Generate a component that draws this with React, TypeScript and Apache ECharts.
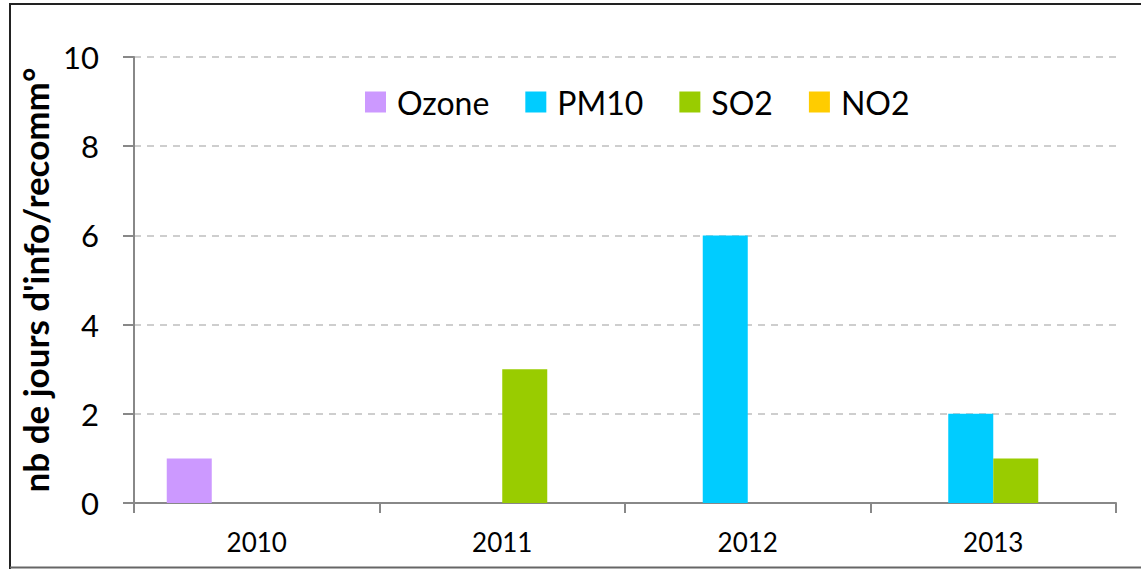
import React, { useEffect, useRef } from "react";
import * as echarts from "echarts";

const categories = ["2010", "2011", "2012", "2013"];
const seriesNames = ["Ozone", "PM10", "SO2", "NO2"];
const ozone = [1, 0, 0, 0];
const pm10 = [0, 0, 6, 2];
const so2 = [0, 3, 0, 1];
const no2 = [0, 0, 0, 0];
const colors = ["#CC99FF", "#00CCFF", "#99CC00", "#FFCC00"];
const yTitle = "nb de jours d'info/recomm°";

export default function App() {
  const ref = useRef<HTMLDivElement>(null);
  useEffect(() => {
    if (!ref.current) return;
    const chart = echarts.init(ref.current, null, { renderer: "svg" });
    const data = [ozone, pm10, so2, no2];
    const font = "Lato, 'Open Sans', sans-serif";
    chart.setOption({
      animation: false,
      textStyle: { fontFamily: font },
      graphic: [
        { type: "line", shape: { x1: 10, y1: 4, x2: 1141, y2: 4 }, style: { stroke: "#222", lineWidth: 2 } },
        { type: "line", shape: { x1: 10, y1: 3, x2: 10, y2: 569 }, style: { stroke: "#222", lineWidth: 2 } },
        { type: "line", shape: { x1: 10, y1: 567.5, x2: 1141, y2: 567.5 }, style: { stroke: "#666", lineWidth: 2 } },
      ],
      legend: {
        data: seriesNames,
        top: 86,
        left: 365,
        padding: 0,
        itemWidth: 21,
        itemHeight: 21,
        itemGap: 36,
        icon: "rect",
        textStyle: { fontSize: 32, color: "#000", fontFamily: font, padding: [0, 0, 0, 6] },
      },
      grid: { left: 134, right: 25, top: 57, bottom: 66 },
      xAxis: {
        type: "category",
        data: categories,
        boundaryGap: true,
        axisLine: { lineStyle: { color: "#888", width: 2 } },
        axisTick: { show: true, length: 10, lineStyle: { color: "#888", width: 2 }, alignWithLabel: false },
        axisLabel: { fontSize: 26, color: "#000", margin: 26, fontFamily: font },
      },
      yAxis: {
        type: "value",
        min: 0,
        max: 10,
        interval: 2,
        name: yTitle,
        nameLocation: "middle",
        nameGap: 80,
        nameTextStyle: { fontSize: 35, fontWeight: "bold", color: "#000", fontFamily: font },
        axisLine: { show: true, lineStyle: { color: "#888", width: 2 } },
        axisTick: { show: true, length: 11, lineStyle: { color: "#888", width: 2 } },
        axisLabel: { fontSize: 31, color: "#000", margin: 35, fontFamily: font },
        splitLine: { lineStyle: { color: "#BFBFBF", type: [7, 6], width: 1.5 } },
      },
      series: seriesNames.map((n, i) => ({
        name: n,
        type: "bar",
        data: data[i],
        barWidth: 45,
        barGap: "0%",
        itemStyle: { color: colors[i] },
      })),
    });
    return () => chart.dispose();
  }, []);
  return (
    <div
      ref={ref}
      style={{ position: "absolute", left: 0, top: 0, width: 1141, height: 569, background: "#fff" }}
    />
  );
}
